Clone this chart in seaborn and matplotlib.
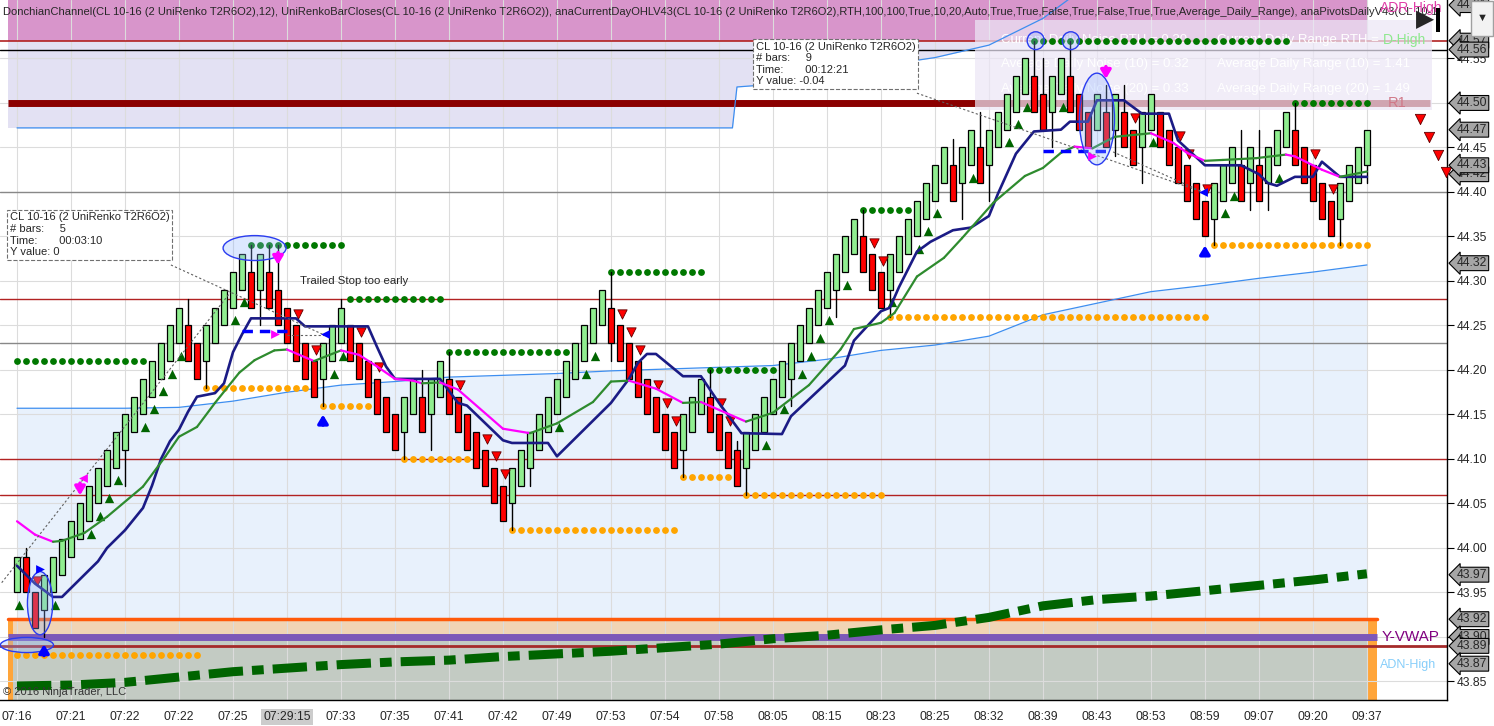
import matplotlib
matplotlib.use("Agg")
import matplotlib.pyplot as plt
import matplotlib.transforms as mtransforms
from matplotlib.patches import Ellipse, Rectangle
import seaborn as sns
import pandas as pd

sns.set_style("white")
plt.rcParams['font.family'] = ['Liberation Sans', 'DejaVu Sans']

# UniRenko bar closes, one per bar
closes = [43.99, 43.95, 43.91, 43.97, 43.99, 44.01, 44.03, 44.05, 44.07, 44.09,
          44.11, 44.13, 44.15, 44.17, 44.19, 44.21, 44.23, 44.25, 44.27, 44.21,
          44.19, 44.25, 44.27, 44.29, 44.31, 44.33, 44.27, 44.33, 44.27, 44.25,
          44.23, 44.21, 44.19, 44.17, 44.23, 44.25, 44.27, 44.21, 44.19, 44.17,
          44.15, 44.13, 44.11, 44.17, 44.19, 44.13, 44.19, 44.21, 44.15, 44.13,
          44.11, 44.09, 44.07, 44.05, 44.03, 44.09, 44.11, 44.13, 44.15, 44.17,
          44.19, 44.21, 44.23, 44.25, 44.27, 44.29, 44.23, 44.21, 44.19, 44.17,
          44.15, 44.13, 44.11, 44.09, 44.15, 44.17, 44.19, 44.13, 44.11, 44.09,
          44.07, 44.13, 44.15, 44.17, 44.19, 44.21, 44.23, 44.25, 44.27, 44.29,
          44.31, 44.33, 44.35, 44.37, 44.31, 44.29, 44.27, 44.33, 44.35, 44.37,
          44.39, 44.41, 44.43, 44.45, 44.39, 44.45, 44.47, 44.41, 44.47, 44.49,
          44.51, 44.53, 44.55, 44.49, 44.47, 44.53, 44.55, 44.49, 44.47, 44.45,
          44.51, 44.45, 44.51, 44.45, 44.43, 44.49, 44.51, 44.45, 44.43, 44.41,
          44.39, 44.37, 44.35, 44.41, 44.43, 44.45, 44.39, 44.45, 44.39, 44.45,
          44.47, 44.49, 44.43, 44.41, 44.39, 44.37, 44.35, 44.41, 44.43, 44.45,
          44.47]
BODY = 0.04

wick_hi = {1: 44.00, 19: 44.28, 26: 44.34, 28: 44.34, 29: 44.34, 36: 44.28,
           45: 44.20, 48: 44.22, 66: 44.31, 77: 44.20, 80: 44.12, 94: 44.38,
           104: 44.46, 107: 44.49, 113: 44.57, 114: 44.55, 117: 44.57,
           121: 44.52, 123: 44.52, 136: 44.47, 138: 44.47, 142: 44.50}
wick_lo = {3: 43.90, 12: 44.07, 21: 44.18, 27: 44.25, 34: 44.16, 43: 44.10,
           46: 44.11, 55: 44.02, 57: 44.07, 66: 44.21, 74: 44.08, 81: 44.06,
           86: 44.16, 91: 44.26, 97: 44.26, 105: 44.37, 107: 44.41, 108: 44.39,
           115: 44.45, 122: 44.44, 125: 44.41, 133: 44.34, 137: 44.38,
           139: 44.38, 147: 44.34, 150: 44.41}

time_labels = ["07:16", "07:21", "07:22", "07:22", "07:25", "07:29:15", "07:33",
               "07:35", "07:41", "07:42", "07:49", "07:53", "07:54", "07:58",
               "08:05", "08:15", "08:23", "08:25", "08:32", "08:39", "08:43",
               "08:53", "08:59", "09:07", "09:20", "09:37"]

up_signals = [0, 4, 8, 9, 10, 11, 14, 15, 16, 17, 18, 24, 25, 35, 36, 60, 63, 64,
              83, 85, 87, 88, 89, 90, 92, 97, 100, 101, 102, 106, 110, 111, 112,
              116, 126, 134, 135, 140]
down_signals = [2, 31, 33, 38, 40, 49, 52, 53, 54, 67, 68, 69, 71, 72, 73, 78,
                79, 95, 96, 124, 129, 130, 132, 144, 146]

# swing high / low dots: (price, first bar, last bar)
high_dots = [(44.21, 0, 14), (44.34, 26, 36), (44.28, 37, 47), (44.22, 48, 61),
             (44.31, 66, 76), (44.20, 77, 84), (44.38, 94, 99), (44.57, 113, 141),
             (44.50, 142, 150)]
low_dots = [(43.88, 0, 20), (44.18, 21, 32), (44.16, 34, 39), (44.10, 43, 50),
            (44.02, 55, 73), (44.08, 74, 79), (44.06, 81, 96), (44.26, 97, 132),
            (44.34, 133, 150)]

upper_x = [0, 79.5, 80, 84, 90, 96, 102, 108, 114, 118]
upper_y = [44.472, 44.472, 44.518, 44.521, 44.533, 44.542, 44.551, 44.565, 44.595, 44.625]
lower_x = [0, 12, 18, 24, 30, 36, 42, 48, 54, 60, 66, 72, 78, 84, 90, 96, 102,
           108, 114, 120, 126, 132, 138, 144, 150]
lower_y = [44.157, 44.157, 44.158, 44.165, 44.175, 44.183, 44.187, 44.192, 44.194,
           44.196, 44.199, 44.201, 44.203, 44.205, 44.212, 44.222, 44.228, 44.238,
           44.262, 44.275, 44.288, 44.295, 44.303, 44.310, 44.318]

vwap_x = list(range(0, 151, 6))
vwap_y = [43.845, 43.846, 43.849, 43.855, 43.861, 43.865, 43.869, 43.872, 43.874,
          43.878, 43.881, 43.884, 43.888, 43.892, 43.898, 43.902, 43.908, 43.913,
          43.922, 43.935, 43.942, 43.946, 43.952, 43.958, 43.964, 43.971]

donch_x = [0, 2, 4, 5, 7, 9, 10, 12, 14, 15, 16, 17, 18, 19, 20, 22, 23, 24, 25, 26,
           31, 32, 38, 39, 40, 41, 42, 47, 49, 50, 54, 55, 59, 60, 66, 68, 69, 70,
           71, 74, 76, 78, 80.5, 85, 86, 92, 93, 96, 97, 98, 100, 101.5, 104, 106,
           108, 109, 111, 113, 116, 117, 119, 120, 123, 125, 128, 129, 132, 136,
           138, 139, 140, 142, 144, 145, 147, 150]
donch_y = [43.98, 43.96, 43.945, 43.945, 43.965, 43.985, 44.00, 44.02, 44.045,
           44.07, 44.10, 44.12, 44.133, 44.153, 44.17, 44.174, 44.185, 44.22, 44.24,
           44.258, 44.258, 44.249, 44.249, 44.249, 44.226, 44.204, 44.19, 44.19,
           44.163, 44.16, 44.121, 44.118, 44.118, 44.103, 44.163, 44.19, 44.208,
           44.218, 44.218, 44.193, 44.193, 44.163, 44.129, 44.128, 44.148, 44.205,
           44.233, 44.266, 44.27, 44.293, 44.333, 44.344, 44.357, 44.36, 44.373,
           44.398, 44.443, 44.468, 44.47, 44.479, 44.479, 44.503, 44.503, 44.488,
           44.488, 44.458, 44.43, 44.43, 44.42, 44.41, 44.407, 44.417, 44.417,
           44.434, 44.417, 44.417]

ema_x = [0, 2, 4, 5, 7.5, 10, 14, 16.5, 18, 20, 22, 24.7, 26.4, 28.6, 30, 33, 36,
         38, 40, 42, 44, 45, 47, 49, 54, 57, 60, 64, 66, 68, 71, 74, 76, 81, 84,
         88, 91.5, 93, 96, 97.5, 100, 103, 105, 108.5, 112, 114, 116, 117.5, 119.5,
         121, 122, 126, 128.5, 130, 132, 134, 137.7, 141, 142, 145, 147, 150]
ema_y = [44.03, 44.015, 44.007, 44.008, 44.017, 44.035, 44.069, 44.103, 44.125,
         44.136, 44.163, 44.197, 44.211, 44.222, 44.223, 44.21, 44.222, 44.217,
         44.204, 44.19, 44.188, 44.185, 44.186, 44.178, 44.134, 44.129, 44.14,
         44.164, 44.187, 44.188, 44.179, 44.163, 44.164, 44.142, 44.152, 44.183,
         44.223, 44.246, 44.253, 44.264, 44.305, 44.326, 44.348, 44.388, 44.418,
         44.427, 44.444, 44.451, 44.449, 44.457, 44.462, 44.466, 44.455, 44.444,
         44.435, 44.436, 44.438, 44.442, 44.44, 44.425, 44.417, 44.423]

price_tags = [44.61, 44.57, 44.56, 44.50, 44.47, 44.42, 44.43, 44.32, 43.97,
              43.92, 43.90, 43.89, 43.87]

bars = pd.DataFrame({"i": range(len(closes)), "close": closes})
bars["dir"] = bars["close"].diff().fillna(1).apply(lambda d: 1 if d > 0 else -1)
bars["open"] = bars["close"] - BODY * bars["dir"]

fig = plt.figure(figsize=(14.94, 7.26), dpi=100)
ax = fig.add_axes([0, 26 / 726, 1447 / 1494, 700 / 726])
ax.set_xlim(-1.89, 158.9)
ax.set_ylim(43.8292, 44.6157)

# background zones
ax.fill_between([-1, 150], 44.57, 44.62, color='#D895CB', lw=0, zorder=0.2)
ax.fill_between(upper_x, upper_y, 44.62, color='#E3E1F3', lw=0, zorder=0.1)
ax.fill_between([-1, 0], 44.472, 44.57, color='#E3E1F3', lw=0, zorder=0.1)
ax.fill_between(lower_x, 43.92, lower_y, color='#E8F1FC', lw=0, zorder=0.1)
ax.fill_between([-1, 151.1], 43.90, 43.92, color='#F1D4B4', lw=0, zorder=0.2)
ax.fill_between([-1, 151.1], 43.80, 43.90, color='#C3CBC3', lw=0, zorder=0.2)
ax.fill_between([-1, -0.5], 43.80, 43.92, color='#FFA53A', lw=0, zorder=0.3)
ax.fill_between([150.1, 151.1], 43.80, 43.92, color='#FFA53A', lw=0, zorder=0.3)

ax.set_xticks(range(0, 151, 6))
ax.set_yticks([43.85 + 0.05 * k for k in range(15)])
ax.grid(True, color='#DCDCDC', lw=0.8, zorder=0.5)
ax.set_axisbelow(True)

# level lines
for lvl, col, lw in [(44.57, '#B22222', 1.2), (44.56, 'black', 1.0), (44.40, '#888888', 1.0),
                     (44.23, '#888888', 1.0), (44.28, '#B22222', 1.0), (44.10, '#B22222', 1.0),
                     (44.06, '#B22222', 1.0), (43.89, '#A52A2A', 2.0)]:
    ax.axhline(lvl, color=col, lw=lw, zorder=1)
ax.plot([-1, 157], [44.50, 44.50], color='#8B0000', lw=5, zorder=1, solid_capstyle='butt')
ax.plot([-1, 151.1], [43.92, 43.92], color='#FF5A0A', lw=2.5, zorder=1.1)
ax.plot([-1, 151.1], [43.90, 43.90], color='#7D58B8', lw=5, zorder=1.1, solid_capstyle='butt')

# info panel
ax.add_patch(Rectangle((106.4, 44.492), 50.8, 0.101, fc='#ECE6F6', alpha=0.72, lw=0, zorder=1.5))
panel_rows = [("Current Daily Noise RTH = 0.30", "Current Daily Range RTH ="),
              ("Average Daily Noise (10) = 0.32", "Average Daily Range (10) = 1.41"),
              ("Average Daily Noise (20) = 0.33", "Average Daily Range (20) = 1.49")]
for k, (a, b) in enumerate(panel_rows):
    yy = 44.571 - k * 0.0275
    ax.text(109.3, yy, a, fontsize=9.5, color='white', va='center', zorder=1.6)
    ax.text(133.3, yy, b, fontsize=9.5, color='white', va='center', zorder=1.6)

# channel lines
sns.lineplot(x=upper_x, y=upper_y, color='#3D8EF0', lw=0.9, ax=ax, zorder=1.8)
sns.lineplot(x=lower_x, y=lower_y, color='#3D8EF0', lw=0.9, ax=ax, zorder=1.8)

# VWAP dash-dot
sns.lineplot(x=vwap_x, y=vwap_y, color='#006400', lw=6.5, ax=ax, zorder=1.9)
ax.lines[-1].set_dashes([3.8, 1.0, 1.3, 1.0])
ax.lines[-1].set_solid_capstyle('butt')

# swing dots
hd = pd.DataFrame([(i, p) for p, a, b in high_dots for i in range(a, b + 1)], columns=["i", "p"])
ld = pd.DataFrame([(i, p) for p, a, b in low_dots for i in range(a, b + 1)], columns=["i", "p"])
sns.scatterplot(data=hd, x="i", y="p", color='#007800', s=24, linewidth=0, ax=ax, zorder=2.5)
sns.scatterplot(data=ld, x="i", y="p", color='#FFA500', s=24, linewidth=0, ax=ax, zorder=2.5)

# candles
for _, r in bars.iterrows():
    lo_b, hi_b = min(r.open, r.close), max(r.open, r.close)
    if r.i in wick_hi:
        ax.plot([r.i, r.i], [hi_b, wick_hi[r.i]], color='black', lw=1, zorder=2.9)
    if r.i in wick_lo:
        ax.plot([r.i, r.i], [wick_lo[r.i], lo_b], color='black', lw=1, zorder=2.9)
ax.bar(bars["i"], bars["close"] - bars["open"], bottom=bars["open"], width=0.72,
       color=['#90EE90' if d > 0 else '#FF0000' for d in bars["dir"]],
       edgecolor='black', linewidth=0.9, zorder=3)

# signal triangles
ups = bars.loc[up_signals]
dns = bars.loc[down_signals]
ax.scatter(ups["i"] + 0.25, ups["open"] - 0.014, marker='^', s=45, color='#006400', zorder=3.5, lw=0)
ax.scatter(dns["i"] + 0.25, dns["open"] + 0.013, marker='v', s=45, color='#FF0000',
           edgecolor='#600000', lw=0.6, zorder=3.5)
ax.scatter([155.9, 156.9, 157.9, 158.8], [44.482, 44.462, 44.442, 44.423], marker='v', s=55,
           color='#FF0000', edgecolor='#600000', lw=0.6, zorder=3.5, clip_on=False)

# donchian mid and ema
sns.lineplot(x=donch_x, y=donch_y, color='#1B1B85', lw=1.9, ax=ax, zorder=4)
for k in range(len(ema_x) - 1):
    col = '#2E8B2E' if ema_y[k + 1] >= ema_y[k] else '#FF00FF'
    ax.plot(ema_x[k:k + 2], ema_y[k:k + 2], color=col, lw=1.6, zorder=4, solid_capstyle='round')

# drawing objects
for (x0, y0), (x1, y1) in [((-1.7, 43.961), (23.7, 44.287)), ((17.1, 44.318), (34.2, 44.239)),
                           ((30, 44.239), (34.2, 44.239)), ((100, 44.511), (132, 44.399)),
                           ((121.8, 44.445), (132, 44.399))]:
    ax.plot([x0, x1], [y0, y1], color='#606060', lw=0.8, ls=(0, (2, 2)), zorder=4.2)
ax.plot([25, 30], [44.244, 44.244], color='#0000FF', lw=2.5, ls=(0, (3, 2)), zorder=4.3)
ax.plot([114, 121], [44.446, 44.446], color='#0000FF', lw=2.5, ls=(0, (3, 2)), zorder=4.3)

for cx, cy, w, h in [(26.4, 44.337, 7.0, 0.028), (2.56, 43.938, 2.8, 0.071), (1.1, 43.891, 5.9, 0.017),
                     (120, 44.482, 3.9, 0.103), (113.2, 44.57, 1.9, 0.02), (117.1, 44.57, 1.9, 0.02)]:
    ax.add_patch(Ellipse((cx, cy), w, h, fc=(0.55, 0.7, 1.0, 0.3), ec='#2A3CF0', lw=1, zorder=4.5))

for x, tail, head, col in [(3, 43.876, 43.895, '#0000FF'), (34, 44.135, 44.153, '#0000FF'),
                           (132, 44.326, 44.343, '#0000FF'), (7, 44.076, 44.056, '#FF00FF'),
                           (29, 44.335, 44.315, '#FF00FF'), (121, 44.544, 44.524, '#FF00FF')]:
    ax.annotate("", xy=(x, head), xytext=(x, tail), zorder=5,
                arrowprops=dict(arrowstyle="-|>,head_width=0.3,head_length=0.5", color=col, lw=2.5))
ax.scatter([28.7, 119.4], [44.24, 44.44], marker='>', s=40, color='#FF00FF', lw=0, zorder=5)
ax.scatter([7.3], [44.079], marker='<', s=40, color='#FF00FF', lw=0, zorder=5)
ax.scatter([34.2, 131.8], [44.24, 44.40], marker='<', s=40, color='#0000FF', lw=0, zorder=5)
ax.scatter([2.6], [43.976], marker='>', s=40, color='#0000FF', lw=0, zorder=5)

# text
box = dict(boxstyle='square,pad=0.25', fc='white', ec='#707070', ls='--', lw=0.8)
ax.text(-0.8, 44.377, "CL 10-16 (2 UniRenko T2R6O2)\n# bars:     5\nTime:       00:03:10\nY value: 0",
        fontsize=8, va='top', ha='left', linespacing=1.2, bbox=box, zorder=6)
ax.text(82.1, 44.569, "CL 10-16 (2 UniRenko T2R6O2)\n# bars:     9\nTime:       00:12:21\nY value: -0.04",
        fontsize=8, va='top', ha='left', linespacing=1.2, bbox=box, zorder=6)
ax.text(31.4, 44.30, "Trailed Stop too early", fontsize=8.2, va='center', zorder=6)
ax.text(-1.6, 43.838, "© 2016 NinjaTrader, LLC", fontsize=8, color='#333333', va='center', zorder=6)
ax.text(-1.55, 44.602, "DonchianChannel(CL 10-16 (2 UniRenko T2R6O2),12), UniRenkoBarCloses(CL 10-16 (2 UniRenko T2R6O2)), "
        "anaCurrentDayOHLV43(CL 10-16 (2 UniRenko T2R6O2),RTH,100,100,True,10,20,Auto,True,True,False,True,False,True,True,"
        "Average_Daily_Range), anaPivotsDailyV43(CL 10-1", fontsize=8.02, va='center', zorder=6)
ax.text(151.4, 44.607, "ADR-High", fontsize=10, color='#E040A8', va='center', zorder=6)
ax.text(151.8, 44.571, "D-High", fontsize=10, color='#8EE88E', va='center', zorder=6)
ax.text(152.3, 44.50, "R1", fontsize=10.5, color='#D07888', va='center', zorder=6)
ax.text(151.6, 43.90, "Y-VWAP", fontsize=11, color='#800080', va='center', zorder=6)
ax.text(151.5, 43.868, "ADN-High", fontsize=9, color='#87CEFA', va='center', zorder=6)

# axes styling (tick labels hidden under a price tag are left blank)
ax.yaxis.tick_right()
covered = {"44.50", "43.90"}
ax.set_yticklabels(["" if f"{t:.2f}" in covered else f"{t:.2f}" for t in ax.get_yticks()])
ax.set_xticklabels(time_labels)
ax.tick_params(axis='y', length=5, direction='out', labelsize=8.7, pad=2, color='black')
ax.tick_params(axis='x', length=5, direction='out', labelsize=8.7, pad=3, color='black')
ax.get_xticklabels()[5].set_bbox(dict(fc='#CCCCCC', ec='none', pad=1.5))
for s in ['top', 'left']:
    ax.spines[s].set_visible(False)
for s in ['right', 'bottom']:
    ax.spines[s].set_color('black')
    ax.spines[s].set_linewidth(1)
ax.set_xlabel("")
ax.set_ylabel("")

# price tags
trans = mtransforms.blended_transform_factory(ax.transAxes, ax.transData)
for p in price_tags:
    ax.text(1.0068, p, f"{p:.2f}", transform=trans, ha='left', va='center', fontsize=8.7,
            bbox=dict(boxstyle='larrow,pad=0.12', fc='#A6A6A6', ec='black', lw=0.8),
            zorder=10, clip_on=False)

# toolbar glyphs
fig.text(1416 / 1494, 1 - 20 / 726, "▶", fontsize=17, va='center', ha='left')
fig.add_artist(Rectangle((1436 / 1494, 1 - 32 / 726), 4 / 1494, 24 / 726, transform=fig.transFigure,
                         fc='black', ec='none'))
fig.add_artist(Rectangle((1471 / 1494, 1 - 36 / 726), 22 / 1494, 35 / 726, transform=fig.transFigure,
                         fc='#F2F2F2', ec='#A0A0A0', lw=1))
fig.text(1482 / 1494, 1 - 18 / 726, "▼", fontsize=8, va='center', ha='center')

fig.savefig("out.png", dpi=100)
